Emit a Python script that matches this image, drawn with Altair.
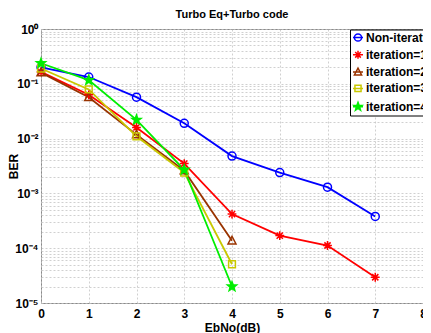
import math
import altair as alt
import pandas as pd

# ---- data ----
ebno = [0, 1, 2, 3, 4, 5, 6, 7]
series_names = ["Non-iteration", "iteration=1", "iteration=2", "iteration=3", "iteration=4"]
ber_noniter = [0.20, 0.133, 0.057, 0.019, 0.0048, 0.0024, 0.0013, 0.00038]
ber_it1 = [0.165, 0.063, 0.016, 0.0035, 0.00042, 0.00017, 0.000112, 0.0000295]
ber_it2 = [0.16, 0.057, 0.0118, 0.0026, 0.000137]
ber_it3 = [0.19, 0.079, 0.011, 0.0024, 0.000051]
ber_it4 = [0.237, 0.117, 0.022, 0.0027, 0.00002]
series_colors = ["#0000ff", "#ff0000", "#993300", "#c8c800", "#00ee00"]
fill_colors = ["transparent", "transparent", "transparent", "transparent", "#00ee00"]

rows = []
for name, vals in zip(series_names, [ber_noniter, ber_it1, ber_it2, ber_it3, ber_it4]):
    for x, v in zip(ebno, vals):
        rows.append({"series": name, "ebno": x, "ber": v})
df = pd.DataFrame(rows)

# ---- marker paths (unit coordinates) ----
def fmt(v):
    return f"{v:.3f}".rstrip("0").rstrip(".")

def circle(s):
    r = fmt(s)
    return f"M-{r},0A{r},{r} 0 1,0 {r},0A{r},{r} 0 1,0 -{r},0"

def asterisk(s):
    a = fmt(1.1 * s); d = fmt(0.78 * s)
    return f"M0,-{a}L0,{a}M-{a},0L{a},0M-{d},-{d}L{d},{d}M-{d},{d}L{d},-{d}"

def triangle(s):
    return f"M0,-{fmt(1.1*s)}L{fmt(1.0*s)},{fmt(0.8*s)}L-{fmt(1.0*s)},{fmt(0.8*s)}Z"

def square(s):
    a = fmt(0.85 * s)
    return f"M-{a},-{a}L{a},-{a}L{a},{a}L-{a},{a}Z"

def pentagram(s):
    pts = []
    for i in range(10):
        r = (1.2 if i % 2 == 0 else 0.5) * s
        ang = math.radians(-90 + 36 * i)
        pts.append(f"{fmt(r*math.cos(ang))},{fmt(r*math.sin(ang))}")
    return "M" + "L".join(pts) + "Z"

makers = [circle, asterisk, triangle, square, pentagram]
plot_shapes = [m(1.0) for m in makers]
legend_shapes = ["M-1,0L1,0" + m(0.72) for m in makers]

shape_expr = "'" + legend_shapes[-1] + "'"
for n, p in reversed(list(zip(series_names[:-1], legend_shapes[:-1]))):
    shape_expr = f"datum.value === '{n}' ? '{p}' : ({shape_expr})"
fill_expr = f"datum.value === '{series_names[-1]}' ? '{fill_colors[-1]}' : 'transparent'"

FONT = "Liberation Sans, Arial, sans-serif"

PLOT_W, PLOT_H = 382, 274
y_values = [m * 10.0 ** k for k in range(-5, 0) for m in range(1, 10)] + [1.0]
label_expr = (
    "abs(datum.value/pow(10, round(log(datum.value)/LN10)) - 1) > 0.001 ? '' : "
    "['10\u207b\u2075','10\u207b\u2074','10\u207b\u00b3','10\u207b\u00b2','10\u207b\u00b9','10\u2070']"
    "[round(log(datum.value)/LN10)+5]"
)

x_enc = alt.X("ebno:Q", scale=alt.Scale(domain=[0, 8], nice=False),
              axis=alt.Axis(title="EbNo(dB)", values=list(range(0, 9)), format="d",
                            labelFlush=False, labelPadding=5, labelFontSize=12,
                            titlePadding=3, titleFontSize=12))
y_enc = alt.Y("ber:Q", scale=alt.Scale(type="log", domain=[1e-5, 1], nice=False),
              axis=alt.Axis(title="BER", values=y_values, labelExpr=label_expr,
                            labelOverlap=False, labelPadding=3, labelFontSize=12,
                            titleX=-21, titleY=PLOT_H / 2, titleBaseline="bottom",
                            titleFontSize=12))

lines = alt.Chart(df).mark_line(strokeWidth=1.8).encode(
    x=x_enc, y=y_enc,
    stroke=alt.Stroke("series:N", scale=alt.Scale(domain=series_names, range=series_colors),
                      legend=alt.Legend(
                          title=None, orient="none", legendX=309, legendY=0.5,
                          symbolSize=100, symbolStrokeWidth=1.5,
                          symbolType=alt.ExprRef(shape_expr),
                          symbolFillColor=alt.ExprRef(fill_expr),
                          labelFont=FONT, labelFontSize=12, labelFontWeight="bold",
                          labelColor="black", labelOffset=2, rowPadding=3.3, padding=2,
                          fillColor="white", strokeColor="black")),
    detail="series:N",
)

points = alt.Chart(df).mark_point(size=64, strokeWidth=1.5, opacity=1).encode(
    x=x_enc, y=y_enc,
    stroke=alt.Stroke("series:N", scale=alt.Scale(domain=series_names, range=series_colors),
                      legend=None),
    shape=alt.Shape("series:N", scale=alt.Scale(domain=series_names, range=plot_shapes), legend=None),
    fill=alt.Fill("series:N", scale=alt.Scale(domain=series_names, range=fill_colors), legend=None),
)

chart = (lines + points).resolve_scale(stroke="independent").properties(
    width=PLOT_W, height=PLOT_H,
    title=alt.Title("Turbo Eq+Turbo code", font=FONT, fontSize=11, fontWeight="bold",
                    color="black", offset=3),
    autosize=alt.AutoSizeParams(type="none"),
    padding={"left": 33, "top": 21, "right": 0, "bottom": 32},
).configure_view(
    stroke="#8a8a8a", strokeWidth=1
).configure_axis(
    labelFont=FONT, labelFontWeight="bold", labelColor="black",
    titleFont=FONT, titleFontWeight="bold", titleColor="black",
    grid=True, gridColor="#c4c4c4", gridDash=[2, 2], gridWidth=0.8,
    domain=False, ticks=False,
)

chart.save("out.html", embed_options={"renderer": "svg", "actions": False})
